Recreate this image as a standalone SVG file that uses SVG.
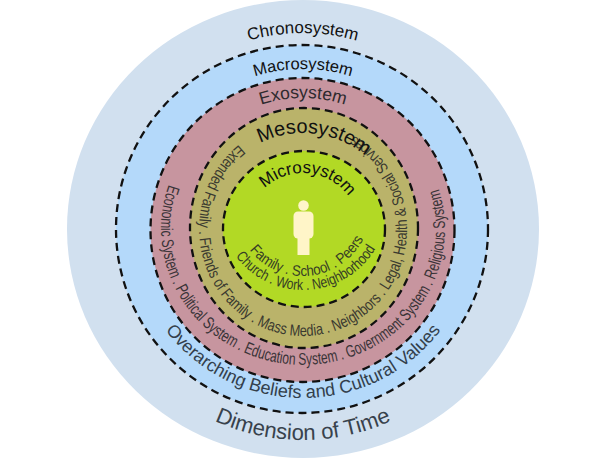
<svg xmlns="http://www.w3.org/2000/svg" width="613" height="460" viewBox="0 0 613 460">
<style>
.ring{stroke:#111;stroke-width:2.3;stroke-dasharray:8 5;}
.t{font-family:"Liberation Sans",Arial,sans-serif;}
.n{font-family:"Liberation Sans Narrow","Liberation Sans",Arial,sans-serif;}
</style>
<defs>
<path id="p-chrono" d="M 107,229 A 196 196 0 0 1 499,229"/>
<path id="p-macro" d="M 143,229 A 160 160 0 0 1 463,229"/>
<path id="p-exo" d="M 172,229 A 131 131 0 0 1 434,229"/>
<path id="p-meso" d="M 207,229 A 96 96 0 0 1 399,229"/>
<path id="p-micro" d="M 247,229 A 56 56 0 0 1 359,229"/>
<path id="p-exo-items" d="M 168.7,184.7 A 142 136 0 1 0 438.1,187.0"/>
<path id="p-meso-items" d="M 239.0,144.7 A 104 107 0 1 0 348.6,132.8"/>
<path id="p-macro-items" d="M 131,229 A 172 169 0 0 0 475,229"/>
<path id="p-chrono-items" d="M 91,229 A 212 211 0 0 0 515,229"/>
<path id="p-micro-1" d="M 235,208 A 68 68 0 0 0 371,208"/>
<path id="p-micro-2" d="M 219,206 A 84 84 0 0 0 387,206"/>
</defs>
<g id="chronosystem">
<ellipse cx="303" cy="229" rx="236" ry="229" fill="#d1e0ef"/>
</g>
<g id="macrosystem">
<ellipse class="ring" cx="302" cy="229" rx="186" ry="184" fill="#b4d9fa"/>
</g>
<g id="exosystem">
<ellipse class="ring" cx="302.5" cy="230" rx="152" ry="152" fill="#c7959f"/>
</g>
<g id="mesosystem">
<ellipse class="ring" cx="304" cy="228" rx="114" ry="120" fill="#bab36a"/>
</g>
<g id="microsystem">
<ellipse class="ring" cx="304" cy="229" rx="81" ry="78" fill="#b2d925"/>
<g id="person" fill="#fff5c8">
<circle cx="303.5" cy="205.5" r="5.3"/>
<rect x="293.5" y="211.5" width="20" height="27" rx="4.5"/>
<rect x="297.5" y="234" width="12" height="21"/>
</g>
</g>
<g id="labels">
<text class="t" font-size="17" fill="#111"><textPath href="#p-chrono" startOffset="50%" text-anchor="middle">Chronosystem</textPath></text>
<text class="t" font-size="16.5" fill="#111"><textPath href="#p-macro" startOffset="50%" text-anchor="middle">Macrosystem</textPath></text>
<text class="t" font-size="17.5" fill="#2e2a2e"><textPath href="#p-exo" startOffset="50%" text-anchor="middle">Exosystem</textPath></text>
<text class="n" font-size="17" fill="#3a3438"><textPath href="#p-exo-items" textLength="522" lengthAdjust="spacingAndGlyphs">Economic System . Political System . Education System . Government System . Religious System</textPath></text>
<text class="n" font-size="16" fill="#3a3a30"><textPath href="#p-meso-items" textLength="540" lengthAdjust="spacingAndGlyphs">Extended Family . Friends of Family . Mass Media . Neighbors . Legal, Health &amp; Social Services</textPath></text>
<text class="t" font-size="20" fill="#111" transform="rotate(7 303 229)"><textPath href="#p-meso" startOffset="50%" text-anchor="middle">Mesosystem</textPath></text>
<text class="t" font-size="17" fill="#111" transform="rotate(5.5 303 229)"><textPath href="#p-micro" startOffset="50%" text-anchor="middle">Microsystem</textPath></text>
<text class="n" font-size="15" fill="#363d26" transform="rotate(-5.5 303 208)"><textPath href="#p-micro-1" startOffset="50%" text-anchor="middle" textLength="136" lengthAdjust="spacingAndGlyphs">Family . School . Peers</textPath></text>
<text class="n" font-size="15" fill="#363d26" transform="rotate(-3 303 206)"><textPath href="#p-micro-2" startOffset="50%" text-anchor="middle" textLength="165" lengthAdjust="spacingAndGlyphs">Church . Work . Neighborhood</textPath></text>
<text class="t" font-size="18" fill="#333f4c"><textPath href="#p-macro-items" startOffset="50%" text-anchor="middle">Overarching Beliefs and Cultural Values</textPath></text>
<text class="t" font-size="22" fill="#38424c"><textPath href="#p-chrono-items" startOffset="50%" text-anchor="middle">Dimension of Time</textPath></text>
</g>
<g id="connectors"/>
</svg>
